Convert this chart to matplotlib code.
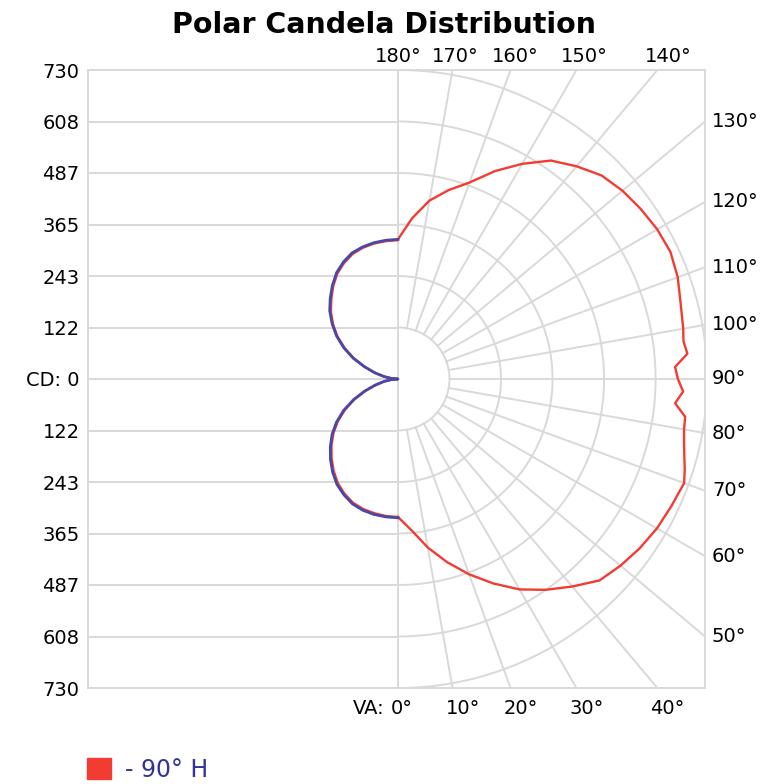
"""
Polar candela distribution of one luminaire, drawn on a flat grid:
circles on the right half, horizontal candela lines on the left half.
"""

import numpy as np
import matplotlib

matplotlib.use("Agg")
import matplotlib.pyplot as plt
from matplotlib.patches import Patch

MAX_CD = 730
RED = "#f23b33"
BLUE = "#4848a8"
GRID = "#d9d9d9"
TEXT_BLUE = "#333399"

# Vertical angle (deg from nadir) and candela, right half of the 90° H plane
vaRight = [0, 5, 10, 15, 20, 25, 30, 35, 40, 45, 50, 55, 60, 65, 70,
           72.5, 75, 77.5, 80, 82.5, 85, 87.5, 90, 92.5, 95, 97.5, 100,
           105, 110, 115, 120, 125, 130, 135, 140, 145, 150, 155, 160,
           165, 170, 175, 180]
cdRight = [326, 358, 404, 448, 491, 533, 574, 608, 640, 673, 686, 697, 706,
           712, 719, 710, 700, 692, 686, 684, 657, 674, 661, 655, 686, 680,
           684, 691, 703, 710, 707, 700, 692, 680, 656, 630, 587, 542, 494,
           462, 428, 381, 330]

# Back side (left half): red and blue traces
vaLeft = [0, 5, 10, 15, 20, 25, 30, 35, 40, 45, 50, 55, 60, 65, 70, 75, 80,
          85, 90, 95, 100, 105, 110, 115, 120, 125, 130, 135, 140, 145, 150,
          155, 160, 165, 170, 175, 180]
cdLeftRed = [326, 325, 322, 318, 311, 299, 284, 265, 244, 222, 199, 173,
             144, 113, 81, 54, 32, 14, 0, 14, 32, 55, 82, 114, 145, 174,
             200, 224, 245, 267, 287, 302, 314, 321, 325, 327, 328]
cdLeftBlue = [328, 327, 325, 321, 314, 302, 288, 269, 248, 226, 203, 177,
              148, 116, 84, 56, 34, 15, 0, 15, 34, 57, 84, 117, 148, 177,
              203, 228, 249, 270, 290, 305, 317, 323, 327, 329, 330]

leftTickValues = np.linspace(-MAX_CD, MAX_CD, 13)
topLabelAngles = [180, 170, 160, 150, 140]
rightLabelAngles = [130, 120, 110, 100, 90, 80, 70, 60, 50]
bottomLabelAngles = [0, 10, 20, 30, 40]
legendLabel = "- 90° H"


def toXY(va, cd, side=1):
    """Convert vertical angle / candela to flat x, y (nadir points down)."""
    rad = np.radians(np.asarray(va, dtype=float))
    cd = np.asarray(cd, dtype=float)
    return side * cd * np.sin(rad), -cd * np.cos(rad)


def drawGrid(ax, xmin, xmax):
    step = MAX_CD / 6
    # horizontal lines on the left half
    for k in range(-5, 6):
        ax.plot([xmin, 0], [k * step, k * step], color=GRID, lw=1.4, zorder=1)
    # vertical axis
    ax.plot([0, 0], [-MAX_CD, MAX_CD], color=GRID, lw=1.4, zorder=1)
    # half circles on the right
    t = np.linspace(0, 180, 200)
    for k in range(1, 7):
        x, y = toXY(t, np.full_like(t, k * step))
        ax.plot(x, y, color=GRID, lw=1.4, zorder=1)
    # radial spokes every 10 degrees
    for a in range(10, 180, 10):
        x, y = toXY([a, a], [step, 3 * MAX_CD])
        ax.plot(x, y, color=GRID, lw=1.4, zorder=1)


def plot():
    fig = plt.figure(figsize=(7.61, 7.84), dpi=100)
    left, right, top, bottom = 88 / 761, 705 / 761, 1 - 70 / 784, 1 - 688 / 784
    ax = fig.add_axes([left, bottom, right - left, top - bottom])
    xmin, xmax = -732, 725
    ax.set_xlim(xmin, xmax)
    ax.set_ylim(-MAX_CD, MAX_CD)

    drawGrid(ax, xmin, xmax)

    # red: right half then the back lobes
    xr, yr = toXY(vaRight, cdRight)
    xl, yl = toXY(vaLeft[::-1], cdLeftRed[::-1], side=-1)
    ax.plot(np.concatenate([xr, xl]), np.concatenate([yr, yl]),
            color=RED, lw=1.7, zorder=3, solid_joinstyle="round")
    xb, yb = toXY(vaLeft, cdLeftBlue, side=-1)
    ax.plot(xb, yb, color=BLUE, lw=2.0, zorder=4, solid_joinstyle="round")

    # left candela scale
    ax.set_yticks(leftTickValues)
    ax.set_yticklabels(["CD: 0" if v == 0 else f"{abs(v):.0f}"
                        for v in leftTickValues])
    ax.tick_params(axis="y", length=0, pad=6, labelsize=14)
    ax.set_xticks([])
    for s in ax.spines.values():
        s.set_color(GRID)
        s.set_linewidth(1.4)

    # angle labels along top, right and bottom edges
    yTop = MAX_CD + 31
    for a in topLabelAngles:
        x = -yTop * np.tan(np.radians(a))
        ax.text(x, yTop, f"{a}°", ha="center", va="center", fontsize=14,
                clip_on=False)
    for a in rightLabelAngles:
        y = -xmax * np.cos(np.radians(a)) / np.sin(np.radians(a))
        ax.annotate(f"{a}°", xy=(1, y), xycoords=("axes fraction", "data"),
                    xytext=(5, 0), textcoords="offset points",
                    ha="left", va="center", fontsize=14)
    for a in bottomLabelAngles:
        x = MAX_CD * np.tan(np.radians(a))
        ax.annotate(f"{a}°", xy=(x, 0), xycoords=("data", "axes fraction"),
                    xytext=(-5, -15), textcoords="offset points",
                    ha="left", va="center", fontsize=14)
        if a == 0:
            ax.annotate("VA:", xy=(x, 0), xycoords=("data", "axes fraction"),
                        xytext=(-10, -15), textcoords="offset points",
                        ha="right", va="center", fontsize=14)

    fig.text(0.504, 1 - 25 / 784, "Polar Candela Distribution", ha="center",
             va="center", fontsize=20.5, fontweight="bold")

    leg = fig.legend(handles=[Patch(color=RED)], labels=[legendLabel],
                     loc="center left", bbox_to_anchor=(87 / 761, 1 - 770 / 784),
                     frameon=False, fontsize=17, handlelength=1.0,
                     handleheight=1.0, handletextpad=0.6, borderpad=0,
                     borderaxespad=0)
    for t in leg.get_texts():
        t.set_color(TEXT_BLUE)

    fig.savefig("out.png", dpi=100)


def main():
    plot()


main()
